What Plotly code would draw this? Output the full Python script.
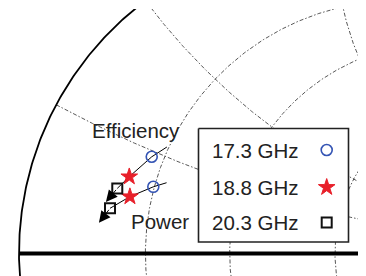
import numpy as np
import plotly.graph_objects as go

# ---------------- data (reflection coefficient) -------------
freq_labels = ["17.3 GHz", "18.8 GHz", "20.3 GHz"]
eff_re = [-0.580, -0.651, -0.689]
eff_im = [0.306, 0.243, 0.206]
pow_re = [-0.575, -0.649, -0.712]
pow_im = [0.211, 0.180, 0.143]

eff_path_re = [-0.532, -0.580, -0.651, -0.689]
eff_path_im = [0.337, 0.306, 0.243, 0.206]
eff_tip = (-0.725, 0.163)
pow_path_re = [-0.533, -0.575, -0.649, -0.712]
pow_path_im = [0.224, 0.211, 0.180, 0.143]
pow_tip = (-0.747, 0.097)

# Smith chart grid values
r_grid = [0.25, 0.5, 1.0]
r_xlim = [1.0, 1.0, 2.0]
x_grid = [0.25, 0.5, 1.0]

marker_colors = ["#3454b4", "#e8202a", "#111111"]
marker_symbols = ["circle-open", "star", "square-open"]
marker_sizes = [11, 12.5, 10]
marker_lw = [1.6, 1, 2]

FONT = "Liberation Sans, Arial, Helvetica, sans-serif"
GRID_DASH = "4px,2px,1.5px,2px"
GRID_COLOR = "#444444"


def gamma(z):
    return (z - 1) / (z + 1)


fig = go.Figure()

# constant-resistance arcs
for r, xl in zip(r_grid, r_xlim):
    xs = np.linspace(-xl, xl, 600)
    g = gamma(r + 1j * xs)
    fig.add_trace(go.Scatter(x=g.real, y=g.imag, mode="lines",
                             line=dict(color=GRID_COLOR, width=0.9, dash=GRID_DASH),
                             hoverinfo="skip", showlegend=False))
# constant-reactance arcs
rs = np.concatenate([np.linspace(0, 1, 300), np.geomspace(1, 60, 300)])
for xv in x_grid:
    for s in (1, -1):
        g = gamma(rs + 1j * s * xv)
        fig.add_trace(go.Scatter(x=g.real, y=g.imag, mode="lines",
                                 line=dict(color=GRID_COLOR, width=0.9, dash=GRID_DASH),
                                 hoverinfo="skip", showlegend=False))
# outer circle
th = np.linspace(0, 2 * np.pi, 800)
fig.add_trace(go.Scatter(x=np.cos(th), y=np.sin(th), mode="lines",
                         line=dict(color="black", width=1.8),
                         hoverinfo="skip", showlegend=False))
# real axis
fig.add_trace(go.Scatter(x=[-1, 1], y=[0, 0], mode="lines",
                         line=dict(color="black", width=4),
                         hoverinfo="skip", showlegend=False))

# trajectories
for pr, pi in ((eff_path_re, eff_path_im), (pow_path_re, pow_path_im)):
    fig.add_trace(go.Scatter(x=pr, y=pi, mode="lines",
                             line=dict(color="black", width=1),
                             showlegend=False))

annotations = []
for pr, pi, tip in ((eff_path_re, eff_path_im, eff_tip), (pow_path_re, pow_path_im, pow_tip)):
    annotations.append(dict(x=tip[0], y=tip[1], ax=pr[-1], ay=pi[-1],
                            xref="x", yref="y", axref="x", ayref="y",
                            text="", showarrow=True, arrowhead=2, arrowsize=2.3,
                            arrowwidth=1, arrowcolor="black", standoff=0, startstandoff=0))

# markers per frequency
for i, lab in enumerate(freq_labels):
    fig.add_trace(go.Scatter(x=[eff_re[i], pow_re[i]], y=[eff_im[i], pow_im[i]],
                             mode="markers", name=lab,
                             marker=dict(symbol=marker_symbols[i], size=marker_sizes[i],
                                         color=marker_colors[i],
                                         line=dict(color=marker_colors[i], width=marker_lw[i])),
                             showlegend=False))

# labels
annotations.append(dict(x=-0.630, y=0.390, xref="x", yref="y", text="Efficiency",
                        showarrow=False, font=dict(family=FONT, size=20.5, color="#222")))
annotations.append(dict(x=-0.555, y=0.100, xref="x", yref="y", text="Power",
                        showarrow=False, font=dict(family=FONT, size=20.5, color="#222")))

# ---------------- custom legend (overlay axis in page-pixel units) ----------------
box_x = [198.5, 348.5, 348.5, 198.5, 198.5]
box_y = [128.5, 128.5, 242, 242, 128.5]
fig.add_trace(go.Scatter(x=box_x, y=box_y, xaxis="x2", yaxis="y2", mode="lines",
                         fill="toself", fillcolor="white",
                         line=dict(color="#222", width=1.6), hoverinfo="skip",
                         showlegend=False))
row_y = [150, 187.3, 222.5]
for i, lab in enumerate(freq_labels):
    fig.add_trace(go.Scatter(x=[326.7], y=[row_y[i]], xaxis="x2", yaxis="y2",
                             mode="markers",
                             marker=dict(symbol=marker_symbols[i], size=marker_sizes[i],
                                         color=marker_colors[i],
                                         line=dict(color=marker_colors[i], width=marker_lw[i])),
                             hoverinfo="skip", showlegend=False))
    annotations.append(dict(x=209.5, y=row_y[i], xref="x2", yref="y2", text=lab,
                            xanchor="left", yanchor="middle", showarrow=False,
                            font=dict(family=FONT, size=20.5, color="#222")))

# geometry in page pixels (page body has an 8px margin)
OFF = 8
CX, CY, RP = 335.0, 253.5, 316.0
PL, PR, PT, PB = 8, 358, 9, 276      # plot area edges on the page
W, H = 366 - OFF, 276 - OFF
fig.update_layout(
    width=W, height=H,
    margin=dict(l=PL - OFF, r=(OFF + W) - PR, t=PT - OFF, b=(OFF + H) - PB, pad=0),
    paper_bgcolor="white", plot_bgcolor="white",
    xaxis=dict(range=[(PL - CX) / RP, (PR - CX) / RP], visible=False, fixedrange=True),
    yaxis=dict(range=[(CY - PB) / RP, (CY - PT) / RP], visible=False, fixedrange=True),
    xaxis2=dict(range=[PL, PR], overlaying="x", visible=False, fixedrange=True),
    yaxis2=dict(range=[PB, PT], overlaying="y", visible=False, fixedrange=True),
    annotations=annotations,
    showlegend=False,
)

fig.write_html("out.html")
